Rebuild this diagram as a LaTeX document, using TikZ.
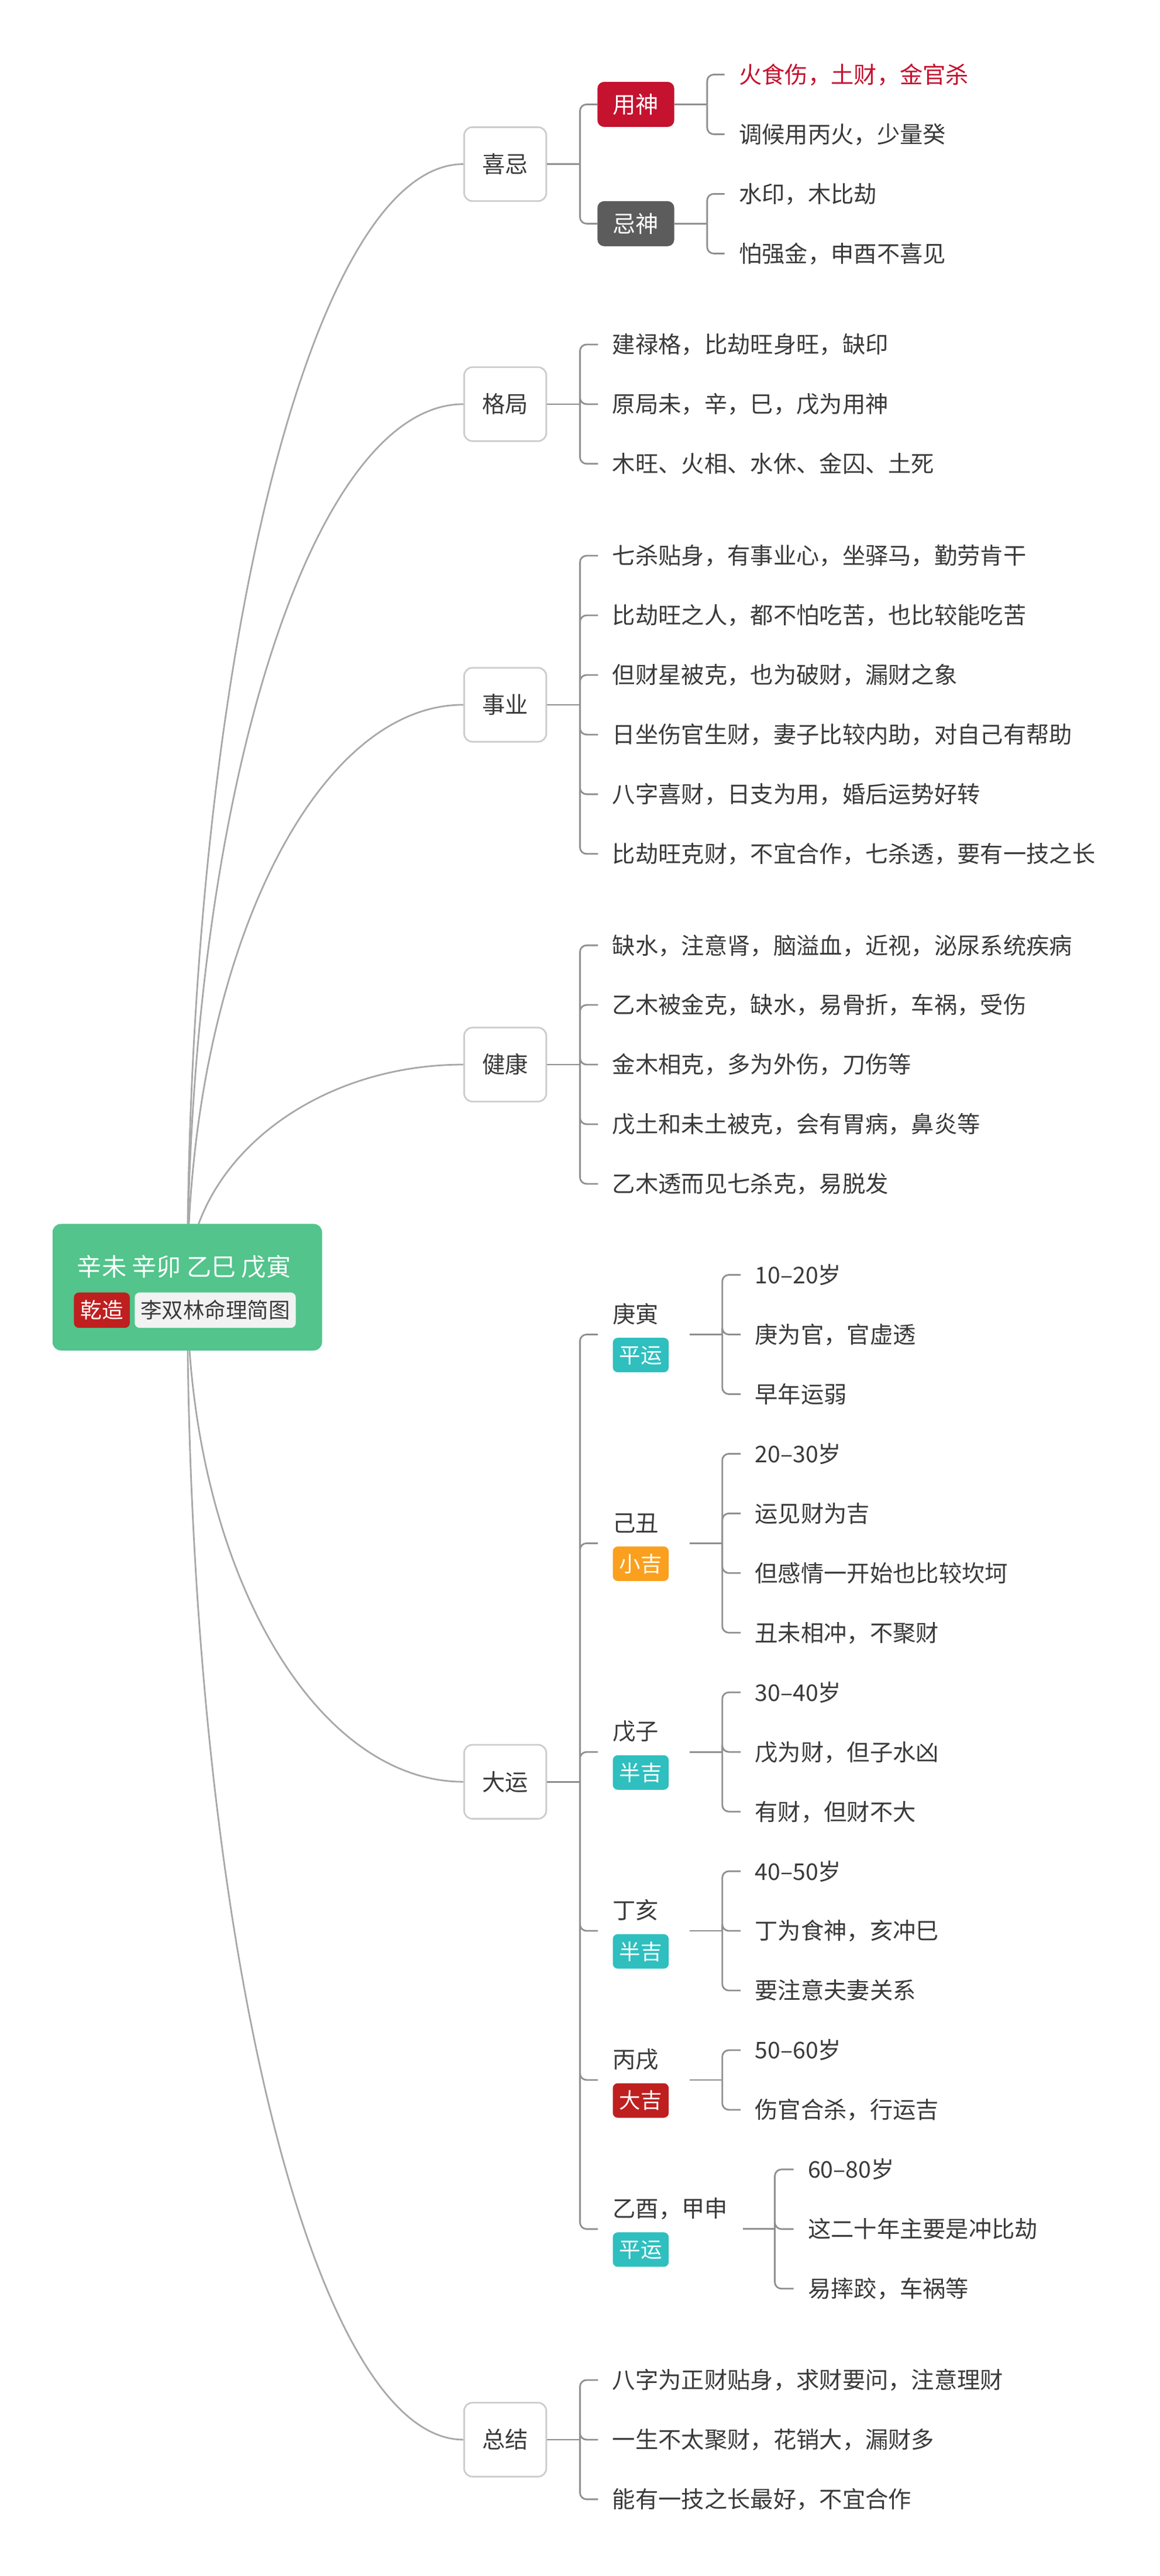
\documentclass[tikz,border=0pt]{standalone}
\usepackage{fontspec}
\setmainfont{Noto Sans CJK SC}
\usetikzlibrary{calc,backgrounds}
\definecolor{rootgreen}{HTML}{52C48C}
\definecolor{tagred}{HTML}{BF1F1F}
\definecolor{tagcrimson}{HTML}{C4122F}
\definecolor{tagdark}{HTML}{5C5C5C}
\definecolor{tagteal}{HTML}{2FBFBF}
\definecolor{tagorange}{HTML}{FAA01E}
\definecolor{tagpale}{HTML}{F2F2F2}
\definecolor{ink}{HTML}{3A3A3A}
\definecolor{frame}{HTML}{CCCCCC}
\definecolor{linegray}{HTML}{8F8F8F}
\definecolor{curvegray}{HTML}{A8A8A8}
\tikzset{
  txt/.style={inner sep=0pt, text height=11.6pt, text depth=1pt, text=ink},
  topic/.style={txt, draw=frame, line width=1pt, fill=white, rounded corners=5pt,
    minimum width=50pt, minimum height=45pt, font=\fontsize{14}{17}\selectfont},
  tag/.style={txt, text=white, text height=10.8pt, text depth=.9pt, rounded corners=3pt,
    minimum width=34pt, minimum height=21pt, font=\fontsize{13}{16}\selectfont},
  leaf/.style={txt, anchor=west, inner xsep=8.5pt, font=\fontsize{14}{17}\selectfont},
  dytitle/.style={txt, anchor=west, font=\fontsize{14}{17}\selectfont},
  dygroup/.style={inner sep=0pt, minimum height=46pt},
  link/.style={draw=curvegray, line width=1pt},
  br/.style={draw=linegray, line width=1pt, rounded corners=4pt}
}
\begin{document}
\begin{tikzpicture}[x=1pt,y=-1pt]
\useasboundingbox (0,0) rectangle (706,1568);
% root
\node[fill=rootgreen,rounded corners=5pt,minimum width=164pt,minimum height=77pt,inner sep=0pt] (root) at (114,783.5) {};
\node[txt,text=white,text height=12.45pt,text depth=1.05pt,font=\fontsize{15}{18}\selectfont] (rtitle) at (112,771) {辛未 辛卯 乙巳 戊寅};
\node[tag,fill=tagred,minimum height=21.5pt] (qianzao) at (62,797.5) {乾造};
\node[tag,fill=tagpale,text=ink,minimum width=98pt,minimum height=21.5pt] (lsl) at (131,797.5) {李双林命理简图};
% main topics
\node[topic] (xiji) at (307.5,99.9) {喜忌};
\node[topic] (geju) at (307.5,246) {格局};
\node[topic] (shiye) at (307.5,429) {事业};
\node[topic] (jiankang) at (307.5,648) {健康};
\node[topic] (dayun) at (307.5,1084.55) {大运};
\node[topic] (zongjie) at (307.5,1485) {总结};
\begin{scope}[on background layer]
\foreach \t in {xiji,geju,shiye,jiankang,dayun,zongjie}
  \draw[link] (root.center) .. controls ($(root.center)!.552!(root.center |- \t.west)$)
    and ($(\t.west)!.552!(root.center |- \t.west)$) .. (\t.west);
\end{scope}
% spines
\coordinate (s1) at (353,0);
\coordinate (s2) at (430.4,0);
\coordinate (s3) at (439.6,0);
\coordinate (s4) at (471.6,0);
% xiji
\node[tag,fill=tagcrimson,minimum width=46.7pt,minimum height=27.4pt,rounded corners=4pt,text height=11.6pt,text depth=1pt,font=\fontsize{14}{17}\selectfont] (yong) at (387,63.55) {用神};
\node[tag,fill=tagdark,minimum width=46.7pt,minimum height=27.4pt,rounded corners=4pt,text height=11.6pt,text depth=1pt,font=\fontsize{14}{17}\selectfont] (ji) at (387,136.15) {忌神};
\draw[br] (xiji.east) -- (xiji.east -| s1);
\foreach \c in {yong,ji} \draw[br] (xiji.east -| s1) |- (\c.west);
\node[leaf,text=tagcrimson] (yong1) at (441,45.4) {火食伤，土财，金官杀};
\node[leaf] (yong2) at (441,81.7) {调候用丙火，少量癸};
\node[leaf] (ji1) at (441,118) {水印，木比劫};
\node[leaf] (ji2) at (441,154.3) {怕强金，申酉不喜见};
\draw[br] (yong.east) -- (yong.east -| s2);
\foreach \c in {yong1,yong2} \draw[br] (yong.east -| s2) |- (\c.west);
\draw[br] (ji.east) -- (ji.east -| s2);
\foreach \c in {ji1,ji2} \draw[br] (ji.east -| s2) |- (\c.west);
% geju
\draw[br] (geju.east) -- (geju.east -| s1);
\foreach \n/\y/\t in {gj1/209.7/建禄格，比劫旺身旺，缺印, gj2/246/原局未，辛，巳，戊为用神, gj3/282.3/木旺、火相、水休、金囚、土死} {
  \node[leaf] (\n) at (364,\y) {\t};
  \draw[br] (geju.east -| s1) |- (\n.west);
}
% shiye
\draw[br] (shiye.east) -- (shiye.east -| s1);
\foreach \n/\y/\t in {sy1/338.25/七杀贴身，有事业心，坐驿马，勤劳肯干, sy2/374.55/比劫旺之人，都不怕吃苦，也比较能吃苦, sy3/410.85/但财星被克，也为破财，漏财之象, sy4/447.15/日坐伤官生财，妻子比较内助，对自己有帮助, sy5/483.45/八字喜财，日支为用，婚后运势好转, sy6/519.75/比劫旺克财，不宜合作，七杀透，要有一技之长} {
  \node[leaf] (\n) at (364,\y) {\t};
  \draw[br] (shiye.east -| s1) |- (\n.west);
}
% jiankang
\draw[br] (jiankang.east) -- (jiankang.east -| s1);
\foreach \n/\y/\t in {jk1/575.4/缺水，注意肾，脑溢血，近视，泌尿系统疾病, jk2/611.7/乙木被金克，缺水，易骨折，车祸，受伤, jk3/648/金木相克，多为外伤，刀伤等, jk4/684.3/戊土和未土被克，会有胃病，鼻炎等, jk5/720.6/乙木透而见七杀克，易脱发} {
  \node[leaf] (\n) at (364,\y) {\t};
  \draw[br] (jiankang.east -| s1) |- (\n.west);
}
% dayun
\node[dygroup,minimum width=55.7pt] (gengyin) at (391.85,812.3) {};
\node[dygroup,minimum width=55.7pt] (jichou) at (391.85,939.35) {};
\node[dygroup,minimum width=55.7pt] (wuzi) at (391.85,1066.4) {};
\node[dygroup,minimum width=55.7pt] (dinghai) at (391.85,1175.3) {};
\node[dygroup,minimum width=55.7pt] (bingxu) at (391.85,1266.05) {};
\node[dygroup,minimum width=88pt] (yiyou) at (408,1356.8) {};
\foreach \g/\t/\b/\c in {gengyin/庚寅/平运/tagteal, jichou/己丑/小吉/tagorange, wuzi/戊子/半吉/tagteal, dinghai/丁亥/半吉/tagteal, bingxu/丙戌/大吉/tagred, yiyou/乙酉，甲申/平运/tagteal} {
  \node[dytitle] (\g-t) at ([shift={(9,-12.5)}]\g.west) {\t};
  \node[tag,anchor=west,fill=\c] (\g-b) at ([shift={(9,12.5)}]\g.west) {\b};
}
\draw[br] (dayun.east) -- (dayun.east -| s1);
\foreach \c in {gengyin,jichou,wuzi,dinghai,bingxu,yiyou} \draw[br] (dayun.east -| s1) |- (\c.west);
\draw[br] (gengyin.east) -- (gengyin.east -| s3);
\foreach \n/\y/\t in {gy1/776/10–20岁, gy2/812.3/庚为官，官虚透, gy3/848.6/早年运弱} {
  \node[leaf] (\n) at (450.8,\y) {\t};
  \draw[br] (gengyin.east -| s3) |- (\n.west);
}
\draw[br] (jichou.east) -- (jichou.east -| s3);
\foreach \n/\y/\t in {jc1/884.9/20–30岁, jc2/921.2/运见财为吉, jc3/957.5/但感情一开始也比较坎坷, jc4/993.8/丑未相冲，不聚财} {
  \node[leaf] (\n) at (450.8,\y) {\t};
  \draw[br] (jichou.east -| s3) |- (\n.west);
}
\draw[br] (wuzi.east) -- (wuzi.east -| s3);
\foreach \n/\y/\t in {wz1/1030.1/30–40岁, wz2/1066.4/戊为财，但子水凶, wz3/1102.7/有财，但财不大} {
  \node[leaf] (\n) at (450.8,\y) {\t};
  \draw[br] (wuzi.east -| s3) |- (\n.west);
}
\draw[br] (dinghai.east) -- (dinghai.east -| s3);
\foreach \n/\y/\t in {dh1/1139/40–50岁, dh2/1175.3/丁为食神，亥冲巳, dh3/1211.6/要注意夫妻关系} {
  \node[leaf] (\n) at (450.8,\y) {\t};
  \draw[br] (dinghai.east -| s3) |- (\n.west);
}
\draw[br] (bingxu.east) -- (bingxu.east -| s3);
\foreach \n/\y/\t in {bx1/1247.9/50–60岁, bx2/1284.2/伤官合杀，行运吉} {
  \node[leaf] (\n) at (450.8,\y) {\t};
  \draw[br] (bingxu.east -| s3) |- (\n.west);
}
\draw[br] (yiyou.east) -- (yiyou.east -| s4);
\foreach \n/\y/\t in {yy1/1320.5/60–80岁, yy2/1356.8/这二十年主要是冲比劫, yy3/1393.1/易摔跤，车祸等} {
  \node[leaf] (\n) at (483,\y) {\t};
  \draw[br] (yiyou.east -| s4) |- (\n.west);
}
% zongjie
\draw[br] (zongjie.east) -- (zongjie.east -| s1);
\foreach \n/\y/\t in {zj1/1448.7/八字为正财贴身，求财要问，注意理财, zj2/1485/一生不太聚财，花销大，漏财多, zj3/1521.3/能有一技之长最好，不宜合作} {
  \node[leaf] (\n) at (364,\y) {\t};
  \draw[br] (zongjie.east -| s1) |- (\n.west);
}
\end{tikzpicture}
\end{document}
